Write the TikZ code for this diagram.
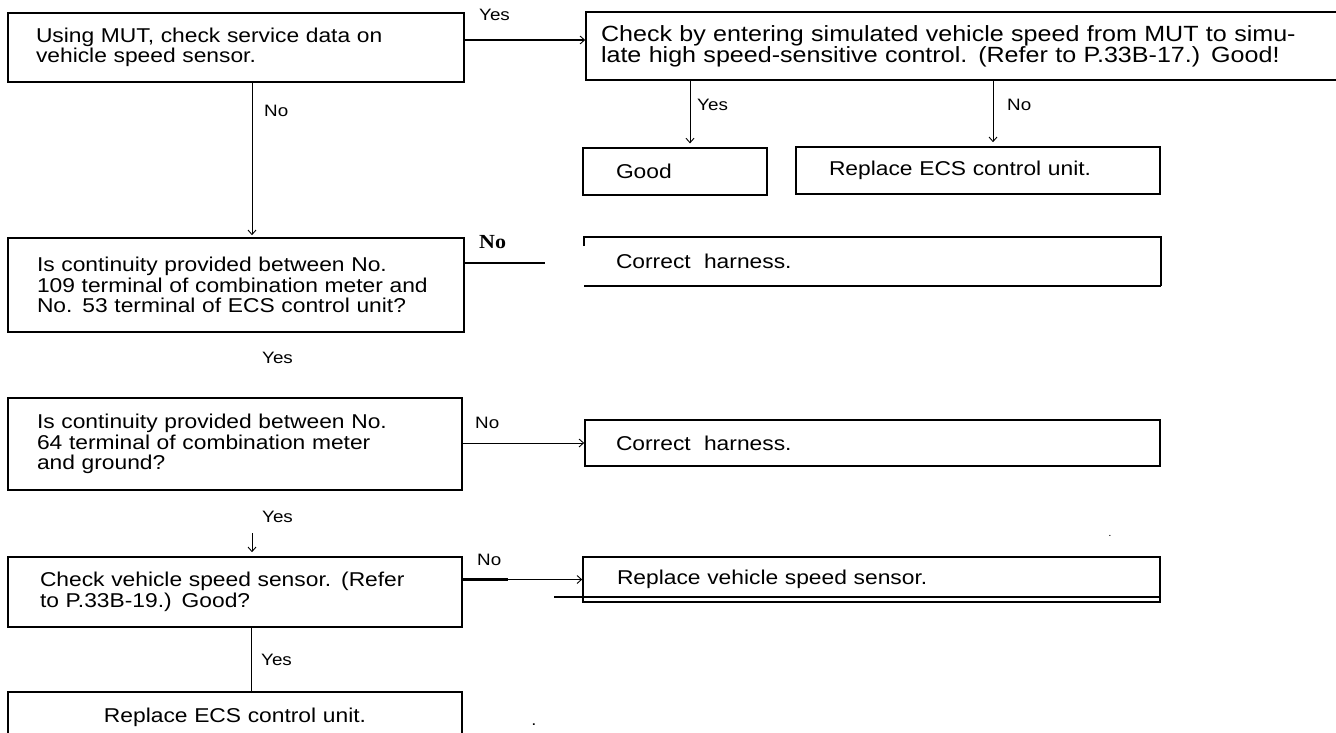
\documentclass[tikz,border=0pt]{standalone}
\usepackage{fontspec}
\setmainfont{Liberation Sans}[FakeStretch=1.14]
\newfontfamily\nofont{Liberation Serif}[FakeStretch=1.1]
\usetikzlibrary{arrows.meta,calc}
\begin{document}
\begin{tikzpicture}[x=1pt,y=-1pt,
  box/.style={draw, line width=1.6pt, rectangle, inner ysep=0pt, align=left,
    font=\fontsize{20}{20.5}\selectfont},
  bigbox/.style={box, font=\fontsize{22}{21}\selectfont},
  lbl/.style={anchor=base west, inner sep=0pt, font=\fontsize{16.5}{17}\selectfont},
  thinline/.style={line width=0.9pt},
  thickline/.style={line width=2.2pt},
  arr/.style={-{Straight Barb[length=4.5pt,width=8pt,line width=0.9pt]}},
  ]
\useasboundingbox (0,0) rectangle (1336,733);

% boxes
\node[box, minimum width=456pt, text width=400pt, inner xsep=28pt, minimum height=69pt] (A) at (236,47.5)
  {Using MUT, check service data on\\vehicle speed sensor.};
\node[bigbox, minimum width=759pt, text width=729pt, inner xsep=15pt, minimum height=68pt] (B) at (965.5,46)
  {Check by entering simulated vehicle speed from MUT to simu-\\late high speed-sensitive control. (Refer to P.33B-17.) Good!};
\node[box, line width=1.2pt, minimum width=184pt, text width=118pt, inner xsep=33pt, minimum height=47pt] (good) at (675,171.5)
  {Good};
\node[box, minimum width=364pt, text width=298pt, inner xsep=33pt, minimum height=47pt] (ecs1) at (978,170.5)
  {Replace ECS control unit.};
\node[box, minimum width=456pt, text width=398pt, inner xsep=29pt, minimum height=94pt] (C) at (236,285)
  {Is continuity provided between No.\\109 terminal of combination meter and\\No. 53 terminal of ECS control unit?};
\node[box, draw=none, minimum width=575pt, text width=513pt, inner xsep=31pt, minimum height=47pt] (h1) at (872.5,261.5)
  {Correct\ \ harness.};
\node[box, minimum width=454pt, text width=396pt, inner xsep=29pt, minimum height=92pt] (D) at (235,444)
  {Is continuity provided between No.\\64 terminal of combination meter\\and ground?};
\node[box, minimum width=575pt, text width=513pt, inner xsep=31pt, minimum height=46pt] (h2) at (872.5,443)
  {Correct\ \ harness.};
\node[box, minimum width=454pt, text width=390pt, inner xsep=32pt, minimum height=70pt] (E) at (235,592)
  {Check vehicle speed sensor. (Refer\\to P.33B-19.) Good?};
\node[box, minimum width=577pt, text width=509pt, inner xsep=34pt, minimum height=45pt] (F) at (871.5,579.5)
  {Replace vehicle speed sensor.};
\node[box, align=center, minimum width=454pt, text width=400pt, inner xsep=27pt, minimum height=50pt] (G) at (235,717)
  {Replace ECS control unit.};

% open-sided outline of the first "Correct harness." box
\draw[line width=1.6pt] ([yshift=-9pt]h1.north west) -- (h1.north west) -- (h1.north east)
  -- (h1.south east);
\draw[line width=2.4pt] (h1.south east) -- (h1.south west);
\draw[line width=2.4pt] (h1.north east) -- ([yshift=-9pt]h1.north east);

% labels
\node[lbl] (yAB) at (479,21) {Yes};
\node[lbl] (nAC) at (264,117) {No};
\node[lbl] (yB) at (697,111) {Yes};
\node[lbl] (nB) at (1007,111) {No};
\node[anchor=base west, inner sep=0pt, font=\nofont\bfseries\fontsize{20}{20}\selectfont] (nC) at (479,248) {No};
\node[lbl] (yC) at (262,363) {Yes};
\node[lbl] (nD) at (475,428) {No};
\node[lbl] (yD) at (262,522) {Yes};
\node[lbl] (nE) at (477,565) {No};
\node[lbl] (yE) at (261,665) {Yes};
\node[anchor=base, inner sep=0pt, font=\fontsize{16}{16}\selectfont] (dot1) at (534,725) {.};
\node[anchor=base, inner sep=0pt, font=\fontsize{10}{10}\selectfont] (dot2) at (1110,536) {.};

% connectors
\draw[thickline, arr] ([yshift=7.5pt]A.east) -- ([yshift=7.5pt]A.east -| B.west);
\draw[thinline, arr, shorten >=2pt] ([xshift=16pt]A.south) -- ([xshift=16pt]C.north);
\draw[thinline, arr, shorten >=4pt] ([xshift=15pt]good.north |- B.south) -- ([xshift=15pt]good.north);
\draw[thinline, arr, shorten >=4pt] ([xshift=15pt]ecs1.north |- B.south) -- ([xshift=15pt]ecs1.north);
\coordinate (cend) at (545,263);
\draw[thickline] (cend -| C.east) -- (cend);
\draw[thinline, arr] (h2.west -| D.east) -- (h2.west);
\coordinate (de) at (252,533);
\draw[thinline, arr, shorten >=4pt] (de) -- (de |- E.north);
\coordinate (ef) at ($(F.west -| E.east)!0.38!(F.west)$);
\draw[thickline] (F.west -| E.east) -- (ef);
\draw[thinline, arr] (ef) -- (F.west);
\draw[thinline] ([xshift=16pt]E.south) -- ([xshift=16pt]G.north);
\draw[line width=1.4pt] (554,597) -- (1160,597);
\end{tikzpicture}
\end{document}
